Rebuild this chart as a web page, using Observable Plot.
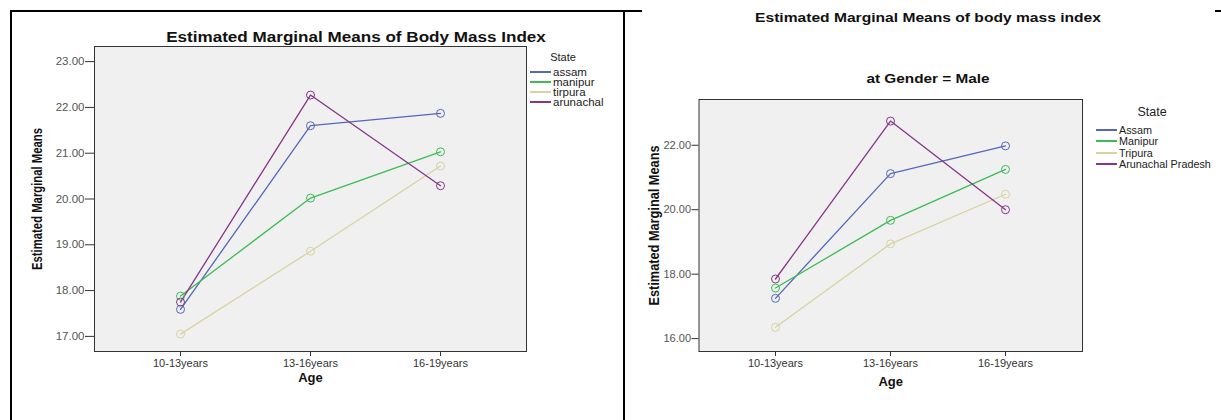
<!DOCTYPE html>
<html>
<head>
<meta charset="utf-8">
<script src="https://cdn.jsdelivr.net/npm/d3@7"></script>
<script src="https://cdn.jsdelivr.net/npm/@observablehq/plot@0.6"></script>
<style>
  html, body { margin: 0; padding: 0; background: #fff; }
  #root { position: relative; width: 1221px; height: 420px; overflow: hidden; font-family: "Liberation Sans", Arial, sans-serif; }
  .rule { position: absolute; background: #000; }
  .title { position: absolute; font-weight: bold; color: #111; white-space: nowrap; }
  .legtitle { position: absolute; color: #222; white-space: nowrap; transform: translate(-50%, -50%); }
  .legrow { position: absolute; display: flex; align-items: center; white-space: nowrap; color: #222; }
  .legrow span.sw { display: inline-block; height: 2px; margin-right: 2px; }
  svg { overflow: visible; }
</style>
</head>
<body>
<div id="root"></div>
<script>
// ---------- data ----------
const ages = ["10-13years", "13-16years", "16-19years"];

const leftStates = ["assam", "manipur", "tirpura", "arunachal"];
const leftAssam = [17.59, 21.60, 21.87];
const leftManipur = [17.88, 20.02, 21.03];
const leftTirpura = [17.05, 18.86, 20.72];
const leftArunachal = [17.75, 22.27, 20.29];
const leftTicks = [17, 18, 19, 20, 21, 22, 23];

const rightStates = ["Assam", "Manipur", "Tripura", "Arunachal Pradesh"];
const rightAssam = [17.25, 21.12, 21.98];
const rightManipur = [17.57, 19.67, 21.25];
const rightTripura = [16.35, 18.94, 20.48];
const rightArunachal = [17.85, 22.75, 20.00];
const rightTicks = [16, 18, 20, 22];

const stateColors = ["#5566bb", "#3dbb55", "#d8d3a0", "#853787"];

const leftTitle = "Estimated Marginal Means of Body Mass Index";
const rightTitle = "Estimated Marginal Means of body mass index";
const rightSubtitle = "at Gender = Male";
const yLabel = "Estimated Marginal Means";
const xLabel = "Age";
const legendTitle = "State";

// ---------- build ----------
function rows(states, series) {
  const out = [];
  states.forEach((s, i) => ages.forEach((a, j) => out.push({state: s, age: a, value: series[i][j]})));
  return out;
}
const leftData = rows(leftStates, [leftAssam, leftManipur, leftTirpura, leftArunachal]);
const rightData = rows(rightStates, [rightAssam, rightManipur, rightTripura, rightArunachal]);

const root = document.getElementById("root");
const FONT = "'Liberation Sans', Arial, sans-serif";

function makeChart(cfg) {
  const chart = Plot.plot({
    width: cfg.width, height: 420,
    marginLeft: cfg.ml, marginRight: cfg.mr, marginTop: cfg.mt, marginBottom: cfg.mb,
    style: {fontFamily: FONT, fontSize: "11px", color: "#333", background: "transparent", overflow: "visible"},
    x: {type: "point", domain: ages, padding: 0.66, label: null},
    y: {domain: cfg.ydomain, label: null},
    color: {domain: cfg.states, range: stateColors},
    marks: [
      Plot.frame({fill: "#f0f0f0", stroke: "none"}),
      Plot.axisY({ticks: cfg.ticks, tickFormat: d3.format(".2f"), tickSize: cfg.tickSize, tickPadding: 1, stroke: "#333", fill: "#555", fontSize: cfg.tickFont, label: null}),
      Plot.axisX({tickSize: 5, tickPadding: 3, stroke: "#333", fill: "#333", fontSize: 11, label: null}),
      Plot.line(cfg.data, {x: "age", y: "value", z: "state", stroke: "state", strokeWidth: 1.3}),
      Plot.dot(cfg.data, {x: "age", y: "value", stroke: "state", r: 4, strokeWidth: 1, fill: "none"}),
      Plot.frame({stroke: "#333", strokeWidth: 1}),
      Plot.text([yLabel], {frameAnchor: "left", dx: cfg.ylabDx, rotate: -90, textAnchor: "middle", fontWeight: "bold", fontSize: cfg.ylabFont, fill: "#111"}),
      Plot.text([xLabel], {frameAnchor: "bottom", dy: cfg.xlabDy, fontWeight: "bold", fontSize: 13, fill: "#111"})
    ]
  });
  chart.style.position = "absolute";
  chart.style.left = cfg.left + "px";
  chart.style.top = "0px";
  chart.querySelectorAll("text").forEach(t => {
    if (t.textContent === yLabel) {
      t.setAttribute("textLength", cfg.ylabLen);
      t.setAttribute("lengthAdjust", "spacingAndGlyphs");
    }
  });
  root.appendChild(chart);
}

makeChart({left: 0, width: 620, ml: 94, mr: 94, mt: 46, mb: 69,
  ydomain: [16.67, 23.33], ticks: leftTicks, tickSize: 9, tickFont: 11.5, data: leftData, states: leftStates,
  ylabDx: -57, ylabFont: 14.5, ylabLen: 142, xlabDy: 30});
makeChart({left: 620, width: 601, ml: 78.5, mr: 139, mt: 99, mb: 69,
  ydomain: [15.6, 23.42], ticks: rightTicks, tickSize: 7, tickFont: 11, data: rightData, states: rightStates,
  ylabDx: -45, ylabFont: 15, ylabLen: 160, xlabDy: 34});

// ---------- titles ----------
function addTitle(text, x, y, size, sx) {
  const d = document.createElement("div");
  d.className = "title"; d.textContent = text;
  d.style.left = x + "px"; d.style.top = y + "px"; d.style.fontSize = size + "px";
  d.style.transform = `translate(-50%, -50%) scaleX(${sx})`;
  root.appendChild(d);
}
addTitle(leftTitle, 356, 37, 14, 1.22);
addTitle(rightTitle, 928, 17, 13, 1.2);
addTitle(rightSubtitle, 928, 78, 13, 1.18);

// ---------- legends ----------
function legend(states, titleX, titleY, rowX, rowY0, rowStep, fontSize, titleSize, swLen) {
  const h = document.createElement("div");
  h.className = "legtitle"; h.textContent = legendTitle;
  h.style.left = titleX + "px"; h.style.top = titleY + "px"; h.style.fontSize = titleSize + "px";
  root.appendChild(h);
  states.forEach((s, i) => {
    const r = document.createElement("div");
    r.className = "legrow";
    r.style.left = rowX + "px";
    r.style.top = (rowY0 + i * rowStep - fontSize * 0.6) + "px";
    r.style.fontSize = fontSize + "px";
    r.style.height = (fontSize * 1.2) + "px";
    const sw = document.createElement("span");
    sw.className = "sw"; sw.style.width = swLen + "px"; sw.style.background = stateColors[i];
    const t = document.createElement("span"); t.textContent = s;
    r.appendChild(sw); r.appendChild(t);
    root.appendChild(r);
  });
}
legend(leftStates, 563, 57, 530, 72, 10, 11.5, 11, 21);
legend(rightStates, 1152, 112, 1096, 130, 11.5, 10.8, 12.5, 21);

// ---------- panel borders ----------
function rule(x, y, w, h) {
  const d = document.createElement("div");
  d.className = "rule";
  d.style.left = x + "px"; d.style.top = y + "px"; d.style.width = w + "px"; d.style.height = h + "px";
  root.appendChild(d);
}
rule(10, 10, 632, 2);
rule(10, 10, 2, 410);
rule(623, 10, 2, 410);
rule(1215, 10, 6, 2);
</script>
</body>
</html>
